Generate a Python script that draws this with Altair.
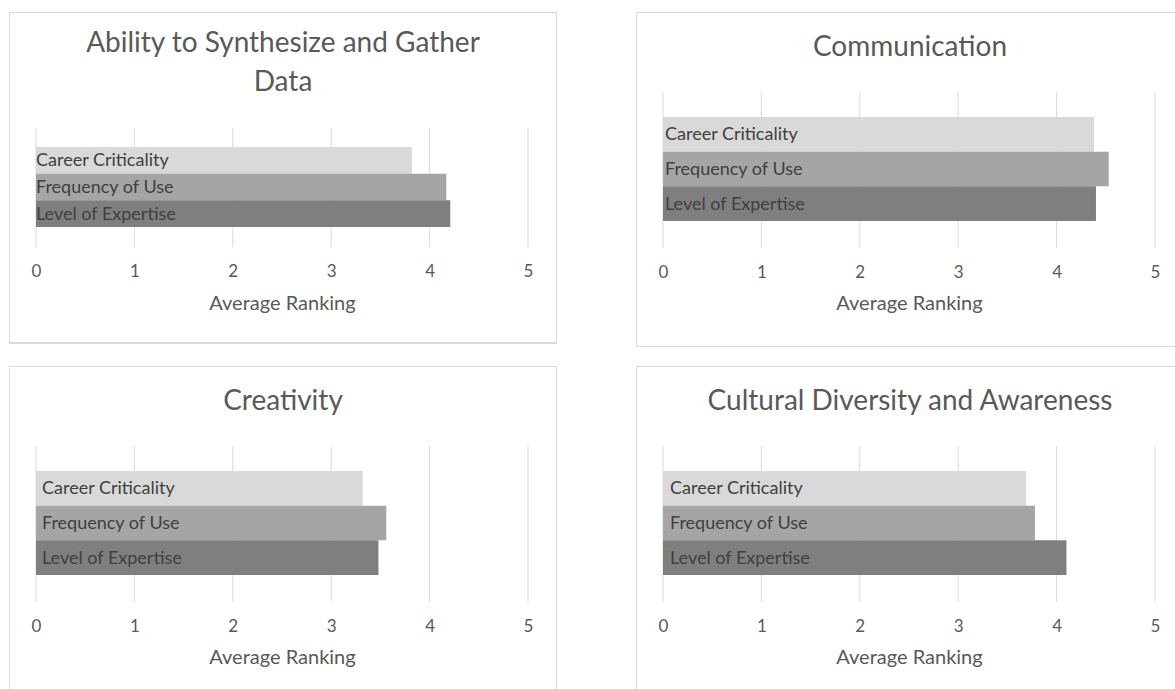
import altair as alt
import pandas as pd

# Average ranking of each skill on three survey measures
title_lines = [
    ["Ability to Synthesize and Gather", "Data"],
    ["Communication"],
    ["Creativity"],
    ["Cultural Diversity and Awareness"],
]
measures = ["Career Criticality", "Frequency of Use", "Level of Expertise"]
career_criticality = [3.82, 4.38, 3.32, 3.69]
frequency_of_use = [4.17, 4.53, 3.56, 3.78]
level_of_expertise = [4.21, 4.40, 3.48, 4.10]
tick_values = [0, 1, 2, 3, 4, 5]
axis_title = "Average Ranking"

bar_colors = ["#d9d9d9", "#a5a5a5", "#7f7f7f"]
FONT = "Lato"
TEXT_GRAY = "#595959"
LABEL_GRAY = "#404040"
LINE_GRAY = "#d9d9d9"

BOX_W = 548          # width of one framed chart box
X_RANGE = [27, 519]  # pixel span of 0..5 inside a box


def panel(i, view_w, view_h, box_h, lay):
    values = [career_criticality[i], frequency_of_use[i], level_of_expertise[i]]
    df = pd.DataFrame({"measure": measures, "value": values, "start": [0, 0, 0]})
    ticks_df = pd.DataFrame({"value": tick_values})
    one = pd.DataFrame({"k": [0]})

    xscale = alt.Scale(domain=[0, 5], range=X_RANGE, nice=False)
    yscale = alt.Scale(domain=measures, range=lay["bars"], paddingInner=0, paddingOuter=0)

    frame = alt.Chart(one).mark_rect(
        fill="white", fillOpacity=0, stroke=LINE_GRAY, strokeWidth=2, clip=True
    ).encode(
        x=alt.value(0), x2=alt.value(BOX_W), y=alt.value(0), y2=alt.value(box_h)
    )

    grid = alt.Chart(ticks_df).mark_rule(color=LINE_GRAY, strokeWidth=1).encode(
        x=alt.X("value:Q", scale=xscale, title=axis_title),
        y=alt.value(lay["grid"][0]),
        y2=alt.value(lay["grid"][1]),
    )

    bars = alt.Chart(df).mark_bar().encode(
        x=alt.X(
            "value:Q",
            scale=xscale,
            axis=alt.Axis(
                orient="bottom",
                offset=lay["ticks"] - view_h,
                values=tick_values,
                format="d",
                grid=False,
                domain=False,
                ticks=False,
                tickSize=0,
                labelPadding=0,
                labelBaseline="middle",
                labelFlush=False,
                labelFont=FONT,
                labelFontSize=17,
                labelColor=TEXT_GRAY,
                title=axis_title,
                titleY=lay["axis_title"] - lay["ticks"],
                titleBaseline="middle",
                titleFont=FONT,
                titleFontSize=20,
                titleFontWeight="normal",
                titleColor=TEXT_GRAY,
            ),
        ),
        x2="start:Q",
        y=alt.Y("measure:N", scale=yscale, axis=None),
        color=alt.Color(
            "measure:N",
            scale=alt.Scale(domain=measures, range=bar_colors),
            legend=None,
        ),
    )

    labels = alt.Chart(df).mark_text(
        align="left", baseline="middle", font=FONT, fontSize=18,
        color=LABEL_GRAY, dx=lay["label_dx"], dy=1,
    ).encode(
        x=alt.X("start:Q", scale=xscale, title=axis_title),
        y=alt.Y("measure:N", scale=yscale, axis=None),
        text="measure:N",
    )

    heading = alt.Chart(one).mark_text(
        align="center", baseline="middle", font=FONT, fontSize=28,
        color=TEXT_GRAY, lineHeight=39,
    ).encode(
        x=alt.value(BOX_W / 2),
        y=alt.value(lay["title"]),
        text=alt.value(title_lines[i] if len(title_lines[i]) > 1 else title_lines[i][0]),
    )

    return alt.layer(frame, grid, bars, labels, heading).properties(
        width=view_w, height=view_h
    )


lay_two_line = {"title": 32, "grid": [116, 235], "bars": [135, 215],
                "ticks": 259, "axis_title": 291, "label_dx": 0}
lay_one_line = {"title": 36, "grid": [80, 236], "bars": [105, 209],
                "ticks": 260, "axis_title": 291, "label_dx": 2}
lay_bottom_l = dict(lay_one_line, label_dx=6)
lay_bottom_r = dict(lay_one_line, label_dx=7)

TOP_H = 335
BOT_H = 323
LEFT_W = 548
RIGHT_W = 539

top = alt.hconcat(
    panel(0, LEFT_W, TOP_H, 331, lay_two_line),
    panel(1, RIGHT_W, TOP_H, 335, lay_one_line),
    spacing=79,
)
bottom = alt.hconcat(
    panel(2, LEFT_W, BOT_H, BOT_H + 20, lay_bottom_l),
    panel(3, RIGHT_W, BOT_H, BOT_H + 20, lay_bottom_r),
    spacing=79,
)

chart = alt.vconcat(top, bottom, spacing=19).properties(
    padding={"left": 9, "top": 12, "right": 0, "bottom": 0},
    background="white",
).configure_view(strokeWidth=0)

chart.save("out.html", embed_options={"renderer": "svg", "actions": False})
